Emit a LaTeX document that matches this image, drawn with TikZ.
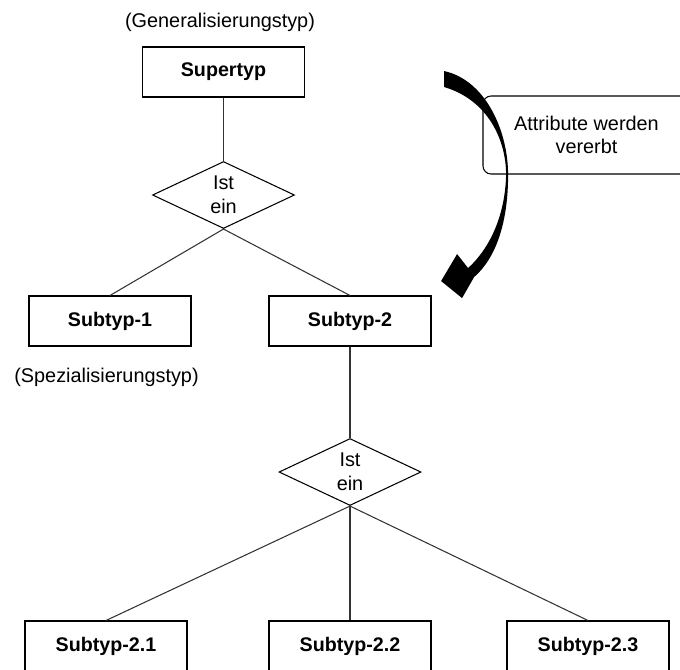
\documentclass[tikz,border=0pt]{standalone}
\usepackage{fontspec}
\setmainfont{Liberation Sans}
\usetikzlibrary{shapes.geometric,positioning}

\begin{document}
\begin{tikzpicture}[
  entity/.style={rectangle, draw, line width=0.6pt, minimum width=3.24cm, minimum height=1.0cm, font=\fontsize{11.2}{13.5}\selectfont\bfseries},
  isa/.style={diamond, draw, line width=0.6pt, inner sep=0pt, minimum width=2.84cm, minimum height=1.34cm, align=center},
  link/.style={draw=black!80, line width=0.6pt},
  node distance=2cm,
  font=\fontsize{11.3}{13.5}\selectfont
]
\clip (0,0) rectangle (13.6,-13.38);

\node[entity] (super) at (4.47,-1.44) {Supertyp};
\node[isa, below of=super, node distance=2.46cm] (isa1) {Ist\\ein};
\node[entity] (sub1) at (2.2,-6.42) {Subtyp-1};
\node[entity, right of=sub1, node distance=4.8cm] (sub2) {Subtyp-2};
\node[isa, below of=sub2, node distance=3.02cm] (isa2) {Ist\\ein};
\node[entity, below of=isa2, node distance=3.48cm] (sub22) {Subtyp-2.2};
\node[entity, left of=sub22, node distance=4.88cm] (sub21) {Subtyp-2.1};
\node[entity, right of=sub22, node distance=4.76cm] (sub23) {Subtyp-2.3};

\draw[link] (super) -- (isa1);
\draw[link] (isa1.south) -- (sub1.north);
\draw[link] (isa1.south) -- (sub2.north);
\draw[link] (sub2) -- (isa2);
\draw[link] (isa2.south) -- (sub21.north);
\draw[link] (isa2.south) -- (sub22.north);
\draw[link] (isa2.south) -- (sub23.north);

\node (gen) at (4.4,-0.44) {(Generalisierungstyp)};
\node (spec) at (2.13,-7.54) {(Spezialisierungstyp)};

\node[draw, line width=0.6pt, rounded corners=0.16cm, minimum width=4.14cm, minimum height=1.56cm, align=center] (note) at (11.73,-2.7) {Attribute werden\\vererbt};

% inheritance arrow
\begin{scope}[x=0.02cm, y=-0.02cm]
\fill[black] (444,71) .. controls (485,80) and (508,130) .. (508,175)
  .. controls (508,222) and (496,258) .. (474,277)
  -- (462,298) -- (441,281) -- (457,254) -- (468,268)
  .. controls (490,248) and (505,215) .. (506,175)
  .. controls (506,140) and (488,100) .. (444,87) -- cycle;
\end{scope}
\end{tikzpicture}
\end{document}
